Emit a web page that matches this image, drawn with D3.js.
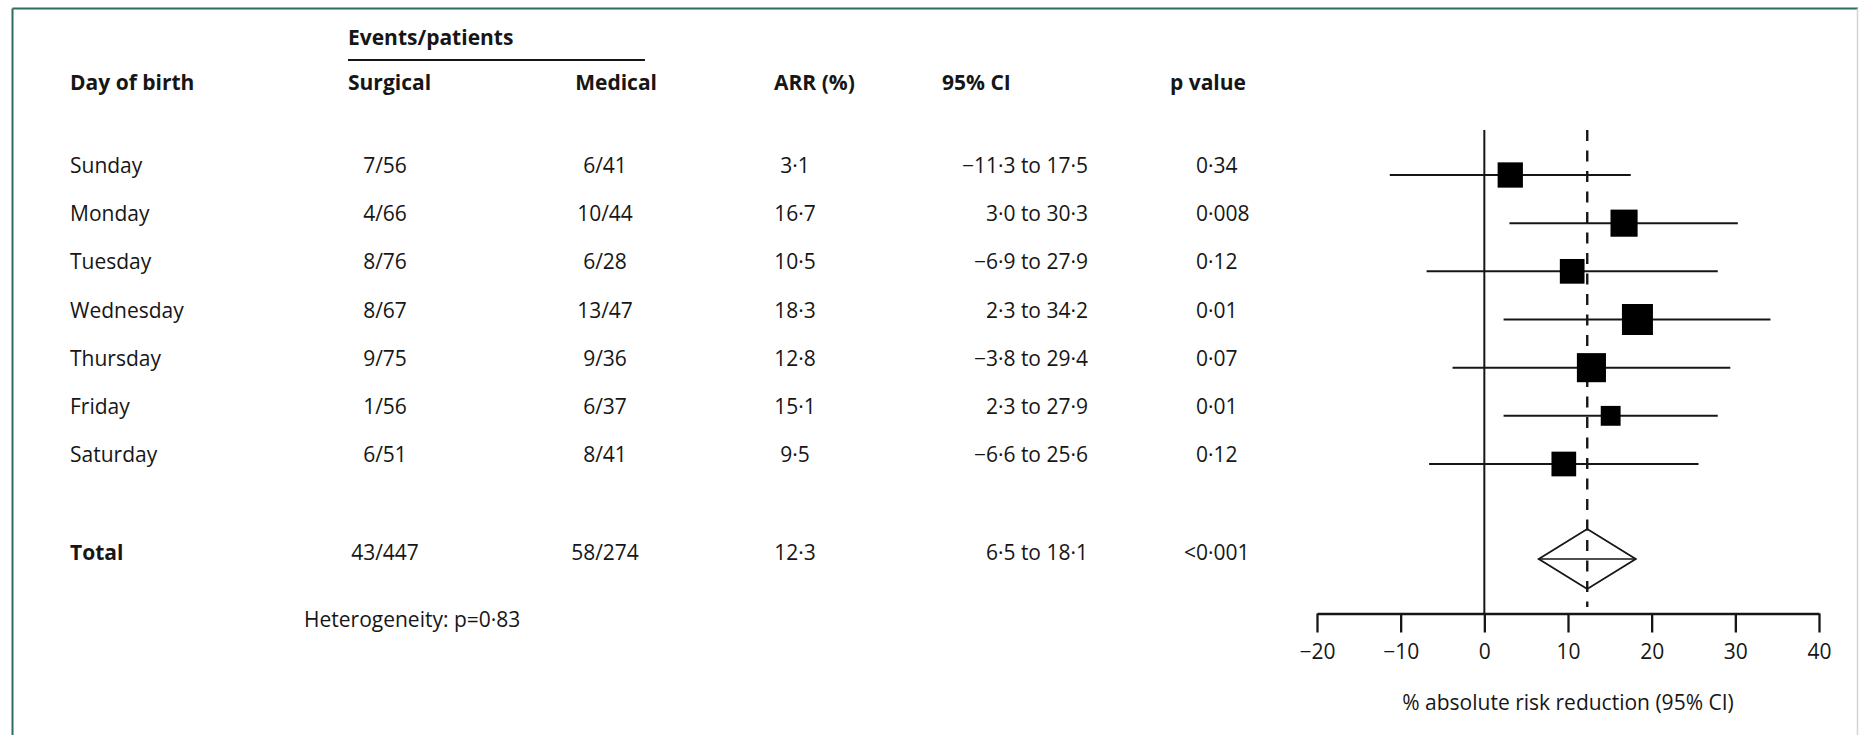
<!DOCTYPE html>
<html>
<head>
<meta charset="utf-8">
<script src="https://cdn.jsdelivr.net/npm/d3@7"></script>
<style>
  html, body { margin: 0; padding: 0; background: #fff; }
  svg { display: block; font-family: "Open Sans", Lato, sans-serif; }
</style>
</head>
<body>
<svg id="chart" width="1862" height="735"></svg>
<script>
// Events/patients, absolute risk reduction (ARR) and 95% CI by day of birth
const days = ["Sunday", "Monday", "Tuesday", "Wednesday", "Thursday", "Friday", "Saturday"];
const surgicalEvents = [7, 4, 8, 8, 9, 1, 6];
const surgicalPatients = [56, 66, 76, 67, 75, 56, 51];
const medicalEvents = [6, 10, 6, 13, 9, 6, 8];
const medicalPatients = [41, 44, 28, 47, 36, 37, 41];
const arr = [3.1, 16.7, 10.5, 18.3, 12.8, 15.1, 9.5];
const ciLow = [-11.3, 3.0, -6.9, 2.3, -3.8, 2.3, -6.6];
const ciHigh = [17.5, 30.3, 27.9, 34.2, 29.4, 27.9, 25.6];
const pValues = ["0·34", "0·008", "0·12", "0·01", "0·07", "0·01", "0·12"];
// relative weight of each day (drives box area)
const weights = [13.3, 15.3, 12.7, 20.0, 17.6, 8.2, 12.7];

const totalArr = 12.3;
const totalLow = 6.5;
const totalHigh = 18.1;
const totalP = "<0·001";
const heterogeneityP = "0·83";

const xTicks = [-20, -10, 0, 10, 20, 30, 40];

// ---------------------------------------------------------------------------
const svg = d3.select("#chart");
const W = 1862, H = 735;
const ink = "#161616";
const fontSize = 21;
const fontFamily = "'Open Sans', Lato, sans-serif";

const rows = days.map((d, i) => ({
  day: d,
  surg: `${surgicalEvents[i]}/${surgicalPatients[i]}`,
  med: `${medicalEvents[i]}/${medicalPatients[i]}`,
  arr: arr[i], lo: ciLow[i], hi: ciHigh[i], p: pValues[i], w: weights[i]
}));

const total = {
  surg: `${d3.sum(surgicalEvents)}/${d3.sum(surgicalPatients)}`,
  med: `${d3.sum(medicalEvents)}/${d3.sum(medicalPatients)}`,
  arr: totalArr, lo: totalLow, hi: totalHigh, p: totalP
};

const num = v => d3.format(".1f")(v).replace(".", "·");

// scales
const x = d3.scaleLinear().domain([-20, 40]).range([1317, 1819]);
const y = d3.scalePoint().domain(days).range([175, 464]);
const totalY = 559;
const box = d3.scaleSqrt().domain([0, 20]).range([0, 31]);

// frame
svg.append("line").attr("x1", 12.5).attr("x2", 1858).attr("y1", 8.5).attr("y2", 8.5)
  .attr("stroke", "#2e6d60").attr("stroke-width", 2);
svg.append("line").attr("x1", 12.5).attr("x2", 12.5).attr("y1", 8.5).attr("y2", H)
  .attr("stroke", "#2e6d60").attr("stroke-width", 2);
svg.append("line").attr("x1", 1857.5).attr("x2", 1857.5).attr("y1", 8.5).attr("y2", H)
  .attr("stroke", "#d4d4d4").attr("stroke-width", 1.5);

// table
const col = { day: 70, surg: 385, med: 605, arr: 795, ci: 1088, p: 1196 };
const table = svg.append("g").attr("fill", ink).attr("font-size", fontSize);

const head = (txt, xPos, yPos, anchor) => table.append("text")
  .attr("x", xPos).attr("y", yPos).attr("text-anchor", anchor || "start")
  .attr("font-weight", 700).text(txt);

head("Events/patients", 348, 45);
table.append("line").attr("x1", 348).attr("x2", 645).attr("y1", 60).attr("y2", 60)
  .attr("stroke", ink).attr("stroke-width", 2);
head("Day of birth", col.day, 90);
head("Surgical", 348, 90);
head("Medical", 657, 90, "end");
head("ARR (%)", 774, 90);
head("95% CI", 942, 90);
head("p value", 1170, 90);

function rowText(g, r, yPos) {
  g.append("text").attr("x", col.surg).attr("y", yPos).attr("text-anchor", "middle").text(r.surg);
  g.append("text").attr("x", col.med).attr("y", yPos).attr("text-anchor", "middle").text(r.med);
  g.append("text").attr("x", col.arr).attr("y", yPos).attr("text-anchor", "middle").text(num(r.arr));
  g.append("text").attr("x", col.ci).attr("y", yPos).attr("text-anchor", "end")
    .text(`${num(r.lo)} to ${num(r.hi)}`);
  const pt = g.append("text").attr("x", col.p).attr("y", yPos).text(r.p);
  // keep the "0·" of every p value on one vertical: a leading "<" hangs to the left
  if (r.p.startsWith("<")) {
    const probe = g.append("text").text("<");
    const wLt = probe.node().getComputedTextLength();
    probe.remove();
    pt.attr("x", col.p - wLt);
  }
}

rows.forEach(r => {
  const yy = y(r.day) - 2;
  const g = table.append("g");
  g.append("text").attr("x", col.day).attr("y", yy).text(r.day);
  rowText(g, r, yy);
});

const gt = table.append("g");
gt.append("text").attr("x", col.day).attr("y", totalY + 1).attr("font-weight", 700).text("Total");
rowText(gt, total, totalY + 1);
table.append("text").attr("x", 304).attr("y", 627).text(`Heterogeneity: p=${heterogeneityP}`);

// forest plot
const plot = svg.append("g");
const axisY = 613.5;

plot.append("line").attr("x1", x(0)).attr("x2", x(0)).attr("y1", 130).attr("y2", axisY)
  .attr("stroke", ink).attr("stroke-width", 2);
plot.append("line").attr("x1", x(totalArr)).attr("x2", x(totalArr)).attr("y1", 130).attr("y2", 607)
  .attr("stroke", ink).attr("stroke-width", 2.4).attr("stroke-dasharray", "11,9.5");

const marks = plot.selectAll("g.row").data(rows).join("g").attr("class", "row");
marks.append("line")
  .attr("x1", d => x(d.lo)).attr("x2", d => x(d.hi))
  .attr("y1", d => y(d.day)).attr("y2", d => y(d.day))
  .attr("stroke", ink).attr("stroke-width", 2);
marks.append("rect")
  .attr("x", d => x(d.arr) - box(d.w) / 2)
  .attr("y", d => y(d.day) - box(d.w) / 2)
  .attr("width", d => box(d.w)).attr("height", d => box(d.w))
  .attr("fill", "#000");

// pooled estimate
const dh = 30;
plot.append("path")
  .attr("d", `M${x(total.lo)},${totalY} L${x(total.arr)},${totalY - dh} L${x(total.hi)},${totalY} L${x(total.arr)},${totalY + dh} Z`)
  .attr("fill", "none").attr("stroke", ink).attr("stroke-width", 1.8);
plot.append("line").attr("x1", x(total.lo)).attr("x2", x(total.hi))
  .attr("y1", totalY).attr("y2", totalY).attr("stroke", ink).attr("stroke-width", 1.6);

// axis
const axis = d3.axisBottom(x).tickValues(xTicks).tickSize(19).tickSizeOuter(0).tickPadding(12)
  .tickFormat(d3.format("d"));
const ax = svg.append("g").attr("transform", `translate(0,${axisY})`).call(axis);
ax.select(".domain").attr("stroke", ink).attr("stroke-width", 2.3);
ax.selectAll(".tick line").attr("stroke", ink).attr("stroke-width", 2.3);
ax.selectAll(".tick text").attr("fill", ink).attr("font-size", fontSize)
  .attr("font-family", fontFamily);

svg.append("text").attr("x", (x.range()[0] + x.range()[1]) / 2).attr("y", 710)
  .attr("text-anchor", "middle").attr("fill", ink).attr("font-size", fontSize)
  .text("% absolute risk reduction (95% CI)");
</script>
</body>
</html>
